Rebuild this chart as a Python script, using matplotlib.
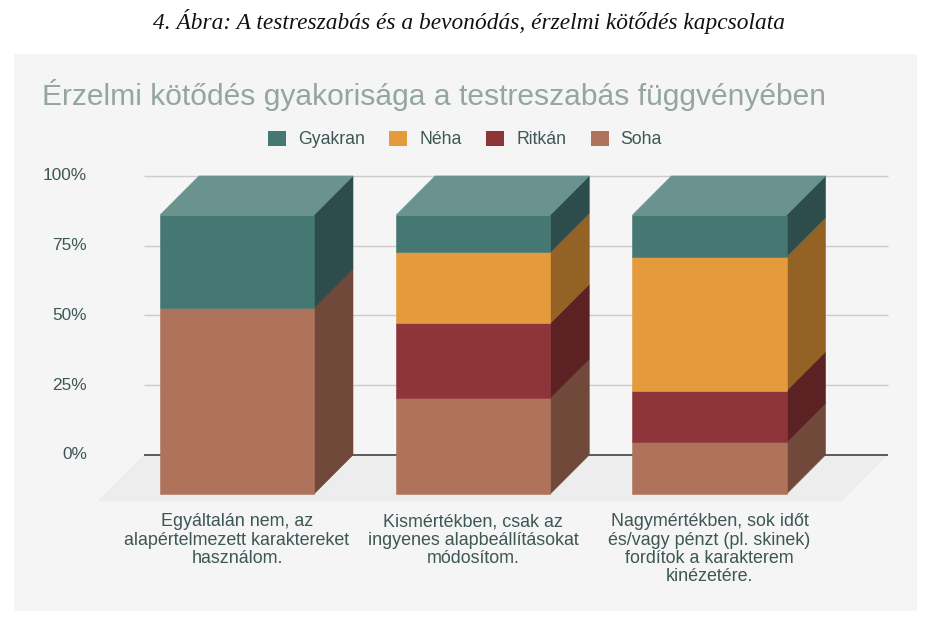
import matplotlib

matplotlib.use("Agg")
import matplotlib.pyplot as plt
from matplotlib.patches import Polygon, Rectangle

plt.rcParams["font.family"] = ["Liberation Sans", "DejaVu Sans"]

categories = [
    "Egyáltalán nem, az\nalapértelmezett karaktereket\nhasználom.",
    "Kismértékben, csak az\ningyenes alapbeállításokat\nmódosítom.",
    "Nagymértékben, sok időt\nés/vagy pénzt (pl. skinek)\nfordítok a karakterem\nkinézetére.",
]
series_names = ["Gyakran", "Néha", "Ritkán", "Soha"]
gyakran = [33.3, 13.4, 14.9]
neha = [0.0, 25.4, 48.1]
ritkan = [0.0, 26.8, 18.5]
soha = [66.7, 34.4, 18.5]
y_ticks = [0, 25, 50, 75, 100]
y_tick_labels = ["0%", "25%", "50%", "75%", "100%"]

# front / side / top shades per series
colors = {
    "Gyakran": ("#457872", "#2c4d4b", "#6a938f"),
    "Néha": ("#e59a3b", "#956226", "#f0b36a"),
    "Ritkán": ("#8e3539", "#5c2223", "#b0585c"),
    "Soha": ("#af735c", "#70493b", "#c8927d"),
}
text_color = "#3d5755"

W, H = 943, 629
fig = plt.figure(figsize=(W / 100, H / 100), dpi=100)
fig.patch.set_facecolor("white")


def fx(px):
    return px / W


def fy(py):
    return 1 - py / H


# chart panel
fig.patches.append(Rectangle((fx(14), fy(611)), fx(917) - fx(14), fy(54) - fy(611),
                             transform=fig.transFigure, facecolor="#f5f5f5",
                             edgecolor="none", zorder=0))

# axes covering the figure; x in category units, y in percent of the front plane
cat_px, x0_px, y0_px, pct_px = 236.25, 237.0, 494.0, 2.79
ax = fig.add_axes([0, 0, 1, 1])
ax.set_zorder(2)
ax.set_xlim(-x0_px / cat_px, (W - x0_px) / cat_px)
ax.set_ylim((y0_px - H) / pct_px, y0_px / pct_px)
ax.set_axis_off()

half = 0.326          # half bar width
dx, dy = 0.165, 14.0  # depth offset
c_lo, c_hi = -0.56, 2.59
f = 0.19              # floor overhang toward viewer

ax.add_patch(Polygon([(c_lo - f * dx, -f * dy), (c_hi - f * dx, -f * dy),
                      (c_hi + dx, dy), (c_lo + dx, dy)],
                     closed=True, facecolor="#ededed", edgecolor="none", zorder=1))

for v, lab in zip(y_ticks, y_tick_labels):
    ax.plot([c_lo + dx, c_hi + dx], [v + dy, v + dy],
            color="#333333" if v == 0 else "#cccccc",
            lw=1.1 if v == 0 else 1.0, zorder=2, solid_capstyle="butt")
    ax.text((87 - x0_px) / cat_px, v + dy, lab, ha="right", va="center",
            fontsize=12.4, color=text_color)

stack = [("Soha", soha), ("Ritkán", ritkan), ("Néha", neha), ("Gyakran", gyakran)]
for i in range(len(categories)):
    x1, x2 = i - half, i + half
    base = 0.0
    top_name = None
    for name, vals in stack:
        h = vals[i]
        if h <= 0:
            continue
        front, side, _ = colors[name]
        ax.add_patch(Polygon([(x2, base), (x2 + dx, base + dy), (x2 + dx, base + h + dy), (x2, base + h)],
                             closed=True, facecolor=side, edgecolor=side, lw=0.4, zorder=3))
        ax.add_patch(Polygon([(x1, base), (x2, base), (x2, base + h), (x1, base + h)],
                             closed=True, facecolor=front, edgecolor=front, lw=0.4, zorder=4))
        base += h
        top_name = name
    top = colors[top_name][2]
    ax.add_patch(Polygon([(x1, base), (x2, base), (x2 + dx, base + dy), (x1 + dx, base + dy)],
                         closed=True, facecolor=top, edgecolor=top, lw=0.4, zorder=4))
    ax.text(i, (y0_px - 513.5) / pct_px, categories[i], ha="center", va="top",
            fontsize=12.9, color=text_color, linespacing=1.09)

handles = [Rectangle((0, 0), 1, 1, facecolor=colors[n][0], edgecolor="none") for n in series_names]
fig.legend(handles, series_names, loc="center", bbox_to_anchor=(fx(465), fy(139.5)),
           ncol=4, frameon=False, fontsize=12.7, handlelength=1.0, handleheight=1.0,
           handletextpad=0.68, columnspacing=1.41, labelcolor=text_color)

fig.text(fx(42), fy(105), "Érzelmi kötődés gyakorisága a testreszabás függvényében",
         ha="left", va="baseline", fontsize=21.6, color="#95a5a2")
fig.text(fx(469), fy(29), "4. Ábra: A testreszabás és a bevonódás, érzelmi kötődés kapcsolata",
         ha="center", va="baseline", fontsize=16.8, style="italic",
         family=["Liberation Serif", "DejaVu Serif"], color="#111111")

fig.savefig("out.png", dpi=100)
